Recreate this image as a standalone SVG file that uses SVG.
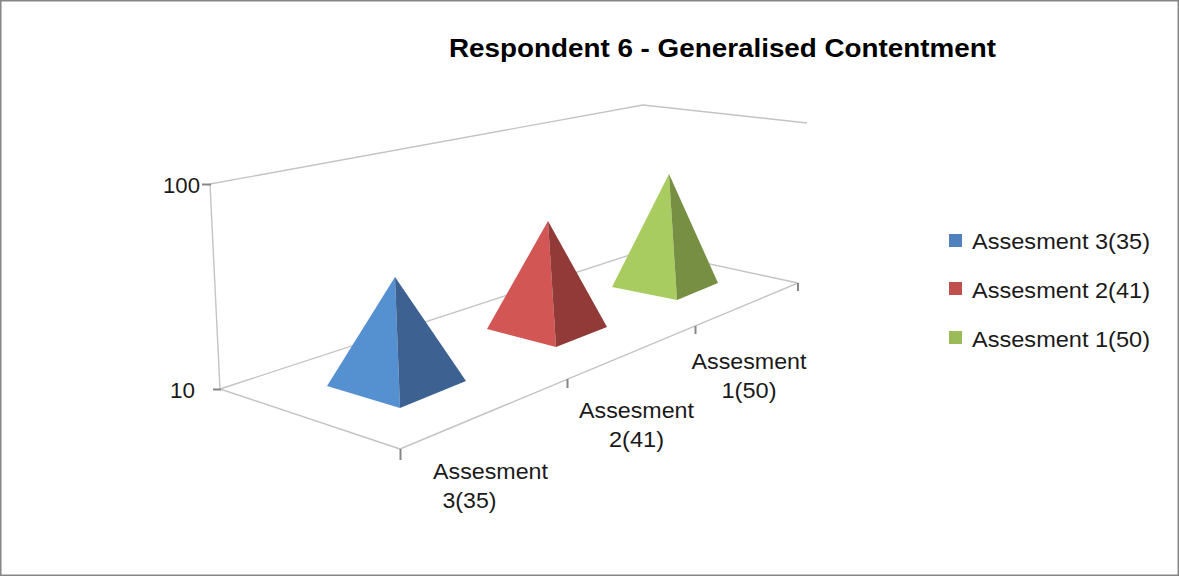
<svg xmlns="http://www.w3.org/2000/svg" width="1179" height="576" viewBox="0 0 1179 576">
<style>
.grid{fill:none;stroke:#C4C4C4;stroke-width:1.4}
.tick{fill:none;stroke:#868686;stroke-width:2}
.t{font-family:"Liberation Sans",Arial,sans-serif;font-size:22px;fill:#1a1a1a}
.title{font-family:"Liberation Sans",Arial,sans-serif;font-size:26px;font-weight:bold;fill:#000}
</style>
<rect x="0" y="0" width="1179" height="576" fill="#ffffff"/>
<rect x="0.75" y="0.75" width="1177.5" height="574.5" fill="none" stroke="#868686" stroke-width="1.5"/>
<text class="title" x="449" y="57" textLength="547" lengthAdjust="spacingAndGlyphs">Respondent 6 - Generalised Contentment</text>
<g id="connectors">
<polyline class="grid" points="210,184 643,105 807,123"/>
<line class="grid" x1="210" y1="184" x2="220" y2="389"/>
<polyline class="grid" points="220,389 645,250 798,283"/>
<line class="grid" x1="220" y1="389" x2="400" y2="449"/>
<line class="grid" x1="400" y1="449" x2="798" y2="283"/>
<line class="tick" x1="202" y1="184.5" x2="211" y2="184.5"/>
<line class="tick" x1="213" y1="389.5" x2="221" y2="389.5"/>
<line class="tick" x1="400.5" y1="449" x2="400.5" y2="460"/>
<line class="tick" x1="567.5" y1="379" x2="567.5" y2="388"/>
<line class="tick" x1="695.5" y1="326" x2="695.5" y2="334"/>
<line class="tick" x1="798" y1="283" x2="798" y2="291"/>
</g>
<g id="axis-labels">
<text class="t" x="200" y="193" text-anchor="end" textLength="37" lengthAdjust="spacingAndGlyphs">100</text>
<text class="t" x="195" y="398" text-anchor="end" textLength="25" lengthAdjust="spacingAndGlyphs">10</text>
</g>
<g id="pyramid-3">
<polygon points="395,277 327,386 400,408" fill="#5590D1"/>
<polygon points="395,277 400,408 466,381" fill="#3D6291"/>
</g>
<g id="pyramid-2">
<polygon points="548,221 487,329 556,347" fill="#D25654"/>
<polygon points="548,221 556,347 607,327" fill="#913A38"/>
</g>
<g id="pyramid-1">
<polygon points="669,174 612,287 677,300" fill="#A8CC60"/>
<polygon points="669,174 677,300 718,283" fill="#778F42"/>
</g>
<g id="category-labels">
<text class="t" x="490.5" y="479" text-anchor="middle" textLength="115" lengthAdjust="spacingAndGlyphs">Assesment</text>
<text class="t" x="469.5" y="508" text-anchor="middle" textLength="54" lengthAdjust="spacingAndGlyphs">3(35)</text>
<text class="t" x="636.5" y="418" text-anchor="middle" textLength="115" lengthAdjust="spacingAndGlyphs">Assesment</text>
<text class="t" x="636.5" y="447" text-anchor="middle" textLength="55" lengthAdjust="spacingAndGlyphs">2(41)</text>
<text class="t" x="749" y="369" text-anchor="middle" textLength="115" lengthAdjust="spacingAndGlyphs">Assesment</text>
<text class="t" x="749" y="398" text-anchor="middle" textLength="55" lengthAdjust="spacingAndGlyphs">1(50)</text>
</g>
<g id="legend">
<rect x="949" y="234" width="13" height="13" fill="#4F81BD"/>
<text class="t" x="972" y="249" textLength="178" lengthAdjust="spacingAndGlyphs">Assesment 3(35)</text>
<rect x="949" y="282" width="13" height="13" fill="#C0504D"/>
<text class="t" x="972" y="298" textLength="178" lengthAdjust="spacingAndGlyphs">Assesment 2(41)</text>
<rect x="949" y="331" width="13" height="13" fill="#9BBB59"/>
<text class="t" x="972" y="347" textLength="178" lengthAdjust="spacingAndGlyphs">Assesment 1(50)</text>
</g>
</svg>
